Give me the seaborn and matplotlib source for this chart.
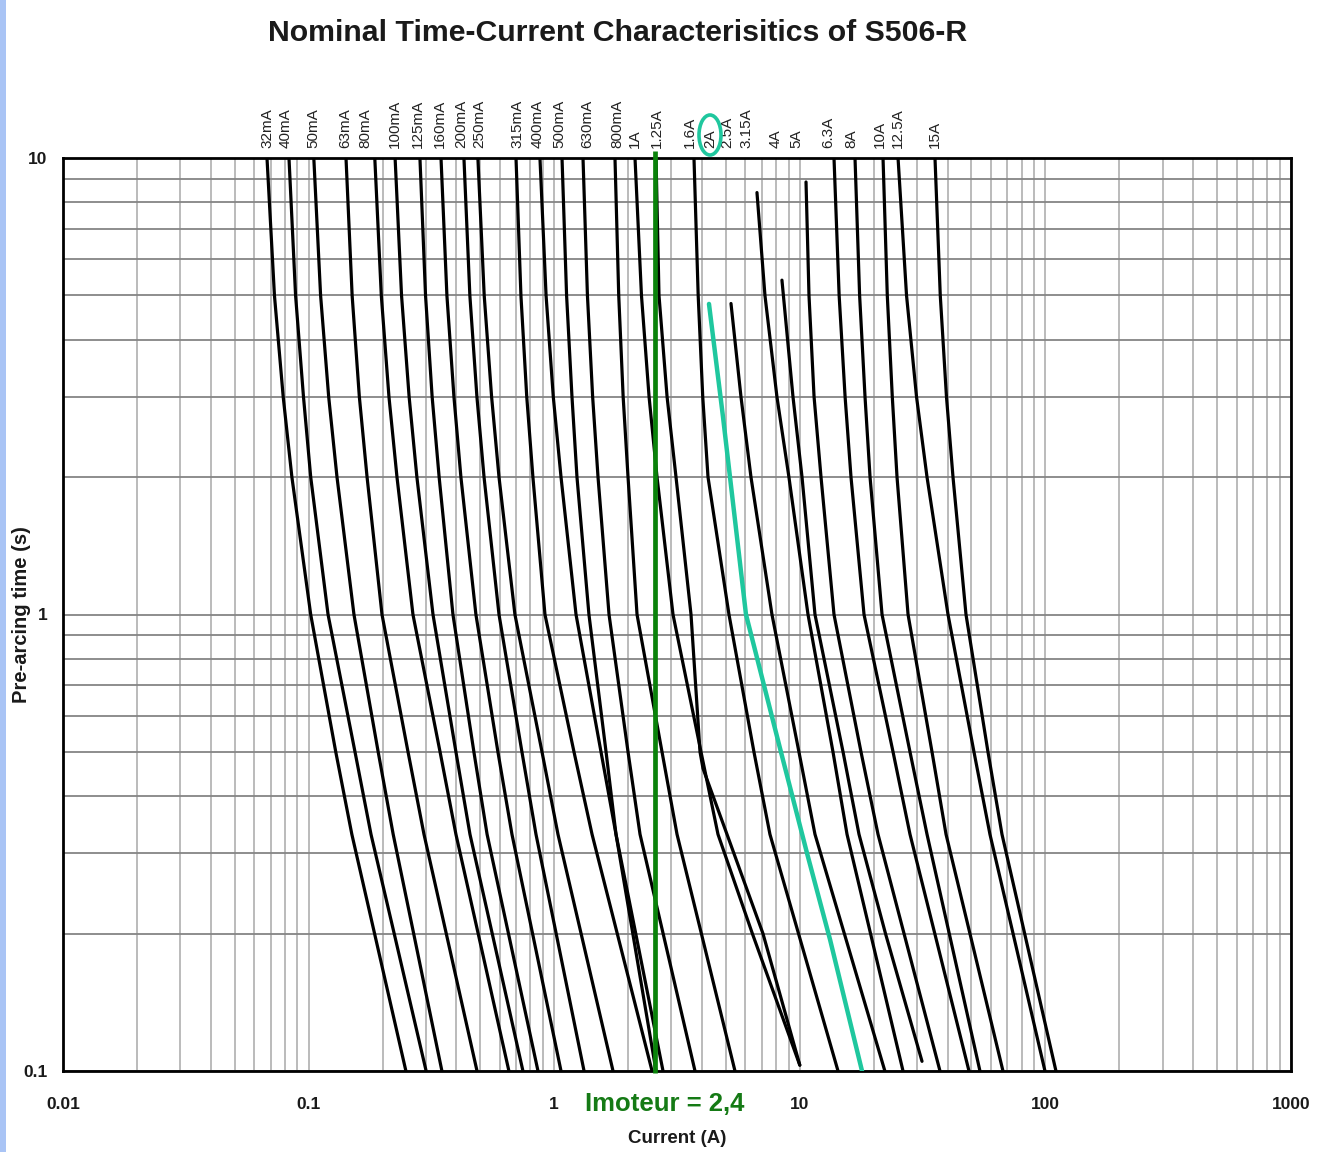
import numpy as np
import pandas as pd
import matplotlib
matplotlib.use("Agg")
import matplotlib.pyplot as plt
from matplotlib.patches import Ellipse, Rectangle
import seaborn as sns

# ---------------- data ----------------
ratings = ["32mA", "40mA", "50mA", "63mA", "80mA", "100mA", "125mA", "160mA",
           "200mA", "250mA", "315mA", "400mA", "500mA", "630mA", "800mA", "1A",
           "1.25A", "1.6A", "2A", "2.5A", "3.15A", "4A", "5A", "6.3A", "8A",
           "10A", "12.5A", "15A"]

# pre-arcing time (s) at which the currents below were read
t_std = [10, 5, 3, 2, 1, 0.5, 0.33, 0.2, 0.1]

i_32mA = [0.0677, 0.0726, 0.0788, 0.0855, 0.102, 0.129, 0.150, 0.1856, 0.249]
i_40mA = [0.0832, 0.0885, 0.0953, 0.102, 0.120, 0.1545, 0.1795, 0.2231, 0.301]
i_50mA = [0.105, 0.1119, 0.1207, 0.1305, 0.153, 0.192, 0.221, 0.2678, 0.349]
i_63mA = [0.142, 0.1504, 0.1609, 0.173, 0.199, 0.254, 0.295, 0.3635, 0.485]
i_80mA = [0.186, 0.1977, 0.2124, 0.229, 0.266, 0.343, 0.398, 0.4903, 0.654]
i_100mA = [0.225, 0.239, 0.2566, 0.276, 0.321, 0.398, 0.454, 0.5593, 0.746]
i_125mA = [0.284, 0.2993, 0.3184, 0.340, 0.387, 0.471, 0.533, 0.6513, 0.859]
i_160mA = [0.346, 0.3657, 0.3906, 0.417, 0.480, 0.590, 0.673, 0.8164, 1.066]
i_200mA = [0.429, 0.4535, 0.4845, 0.518, 0.596, 0.739, 0.843, 1.0186, 1.323]
i_250mA = [0.489, 0.5188, 0.556, 0.596, 0.692, 0.892, 1.036, 1.2868, 1.736]
i_315mA = [0.699, 0.732, 0.773, 0.819, 0.917, 1.204, 1.426, 1.806, 2.503]
i_400mA = [0.875, 0.9266, 0.9914, 1.066, 1.227, 1.551, 1.785, 2.148, 2.774]
i_500mA = [1.076, 1.1231, 1.1813, 1.238, 1.385, 1.626, 1.785, 2.0897, 2.598]
i_630mA = [1.310, 1.3655, 1.4338, 1.508, 1.672, 1.998, 2.236, 2.7765, 3.744]
i_800mA = [1.768, 1.8312, 1.9086, 1.998, 2.174, 2.748, 3.163, 3.974, 5.446]
i_1_6A = [3.708, 3.857, 4.025, 4.229, 5.148, 6.506, 7.559, 9.88, 14.31]
i_6_3A = [13.78, 14.46, 15.29, 16.16, 18.26, 23.97, 28.1, 35.45, 48.85]
i_8A = [16.78, 17.52, 18.43, 19.32, 21.62, 28.1, 32.96, 40.60, 54.14]
i_10A = [21.82, 22.71, 23.80, 24.88, 27.59, 34.54, 39.39, 49.29, 67.18]
i_12_5A = [25.12, 27.20, 29.87, 32.96, 40.13, 51.19, 59.46, 73.85, 99.6]
i_15A = [35.52, 37.32, 39.55, 42.05, 47.5, 58.37, 66.56, 82.32, 110.4]

# curves read at their own times
t_1A = [10, 5, 3, 2, 1, 0.5, 0.33, 0.2, 0.103]
i_1A = [2.133, 2.2663, 2.4336, 2.622, 3.046, 3.961, 4.644, 6.41, 10.0]
t_1_25A = [10, 5, 3, 2, 1, 0.5, 0.46, 0.33, 0.2, 0.103]
i_1_25A = [2.598, 2.671, 2.881, 3.133, 3.606, 3.924, 4.035, 5.053, 7.080, 10.0]
t_2A = [4.79, 2.71, 1, 0.51, 0.30, 0.194, 0.1]
i_2A = [4.268, 4.867, 6.038, 8.301, 10.70, 13.28, 17.92]
t_2_5A = [4.8, 3, 2, 1, 0.5, 0.33, 0.2, 0.1]
i_2_5A = [5.246, 5.76, 6.327, 7.703, 9.92, 11.53, 15.18, 22.2]
t_3_15A = [8.4, 5, 3, 2, 1, 0.5, 0.33, 0.2, 0.1]
i_3_15A = [6.693, 7.213, 8.07, 9.03, 10.8, 13.65, 15.57, 19.41, 26.32]
t_4A = [5.4, 3, 2, 1, 0.5, 0.33, 0.2, 0.105]
i_4A = [8.459, 9.38, 10.21, 11.53, 15.0, 17.42, 22.33, 31.45]
t_5A = [8.86, 5, 3, 2, 1, 0.5, 0.33, 0.2, 0.1]
i_5A = [10.6, 10.9, 11.43, 12.2, 13.78, 17.75, 20.82, 26.57, 37.22]

# current at which each rating label sits above the chart
label_current = [0.0677, 0.0808, 0.105, 0.141, 0.171, 0.225, 0.279, 0.343,
                 0.417, 0.494, 0.706, 0.859, 1.046, 1.36, 1.80, 2.13, 2.62,
                 3.57, 4.31, 5.06, 6.04, 8.0, 9.65, 13.0, 16.2, 21.2, 25.1, 35.5]

i_motor = 2.57
motor_text = "Imoteur = 2,4"

x_ticks = [0.01, 0.1, 1, 10, 100, 1000]
x_ticklabels = ["0.01", "0.1", "1", "10", "100", "1000"]
y_ticks = [0.1, 1, 10]
y_ticklabels = ["0.1", "1", "10"]

# ---------------- table ----------------
series = {
    "32mA": (t_std, i_32mA), "40mA": (t_std, i_40mA), "50mA": (t_std, i_50mA),
    "63mA": (t_std, i_63mA), "80mA": (t_std, i_80mA), "100mA": (t_std, i_100mA),
    "125mA": (t_std, i_125mA), "160mA": (t_std, i_160mA), "200mA": (t_std, i_200mA),
    "250mA": (t_std, i_250mA), "315mA": (t_std, i_315mA), "400mA": (t_std, i_400mA),
    "500mA": (t_std, i_500mA), "630mA": (t_std, i_630mA), "800mA": (t_std, i_800mA),
    "1A": (t_1A, i_1A), "1.25A": (t_1_25A, i_1_25A), "1.6A": (t_std, i_1_6A),
    "2A": (t_2A, i_2A), "2.5A": (t_2_5A, i_2_5A), "3.15A": (t_3_15A, i_3_15A),
    "4A": (t_4A, i_4A), "5A": (t_5A, i_5A), "6.3A": (t_std, i_6_3A),
    "8A": (t_std, i_8A), "10A": (t_std, i_10A), "12.5A": (t_std, i_12_5A),
    "15A": (t_std, i_15A),
}
rows = []
for r in ratings:
    ts, cs = series[r]
    for k, (t, c) in enumerate(zip(ts, cs)):
        rows.append({"rating": r, "order": k, "time": t, "current": c})
df = pd.DataFrame(rows)
df_black = df[df.rating != "2A"]
df_teal = df[df.rating == "2A"]

# ---------------- figure ----------------
sns.set_theme(style="white")
plt.rcParams["font.family"] = ["Liberation Sans", "DejaVu Sans"]

W, H = 1326, 1152
fig = plt.figure(figsize=(W / 100, H / 100), dpi=100)
fig.patch.set_facecolor("white")
fig.patches.append(Rectangle((0, 0), 6 / W, 1, transform=fig.transFigure,
                             facecolor="#a9c4f5", edgecolor="none", zorder=0))

ax = fig.add_axes([63 / W, (H - 1071) / H, (1291 - 63) / W, (1071 - 158) / H])
ax.set_xscale("log")
ax.set_yscale("log")
ax.set_xlim(0.01, 1000)
ax.set_ylim(0.1, 10)

ax.xaxis.set_minor_locator(matplotlib.ticker.LogLocator(base=10, subs=np.arange(2, 10)))
ax.yaxis.set_minor_locator(matplotlib.ticker.LogLocator(base=10, subs=np.arange(2, 10)))
ax.grid(True, which="both", axis="x", color="#a8a8a8", lw=1.1)
ax.grid(True, which="both", axis="y", color="#858585", lw=1.3)
ax.set_axisbelow(True)

sns.lineplot(data=df_black, x="current", y="time", units="rating",
             estimator=None, sort=False, color="black", lw=2.3, ax=ax,
             legend=False)
sns.lineplot(data=df_teal, x="current", y="time", units="rating",
             estimator=None, sort=False, color="#1fc79e", lw=3.2, ax=ax,
             legend=False, zorder=5)
for ln in ax.lines:
    ln.set_solid_joinstyle("round")
    ln.set_solid_capstyle("round")

ax.plot([i_motor, i_motor], [0.099, 10.35], color="#0a820a", lw=3.4,
        clip_on=False, zorder=6, solid_capstyle="butt")

for s in ax.spines.values():
    s.set_color("black")
    s.set_linewidth(2.0)

ax.set_xticks(x_ticks)
ax.set_xticklabels(x_ticklabels)
ax.set_yticks(y_ticks)
ax.set_yticklabels(y_ticklabels)
ax.xaxis.set_minor_formatter(matplotlib.ticker.NullFormatter())
ax.yaxis.set_minor_formatter(matplotlib.ticker.NullFormatter())
ax.tick_params(axis="both", which="both", length=0)
ax.tick_params(axis="x", pad=19, labelsize=12.5)
ax.tick_params(axis="y", pad=11, labelsize=12.5)
for lab in ax.get_xticklabels() + ax.get_yticklabels():
    lab.set_fontweight("bold")
    lab.set_color("#1a1a1a")

ax.set_xlabel("Current (A)", fontsize=13.5, fontweight="bold", color="#1a1a1a")
ax.set_ylabel("Pre-arcing time (s)", fontsize=14.5, fontweight="bold", color="#1a1a1a")
ax.xaxis.set_label_coords(0.5, (1071 - 1130) / 913)
ax.yaxis.set_label_coords((31 - 63) / 1228, 0.5)

for r, c in zip(ratings, label_current):
    ax.annotate(r, xy=(c, 10), xycoords="data", xytext=(0, 7),
                textcoords="offset points", rotation=90, ha="center",
                va="bottom", fontsize=11, color="#222222", annotation_clip=False)

fig.text(618 / W, 1 - 33 / H, "Nominal Time-Current Characterisitics of S506-R",
         ha="center", va="center", fontsize=21.8, fontweight="bold", color="#1a1a1a")
fig.text(665 / W, 1 - 1104 / H, motor_text, ha="center", va="center",
         fontsize=18.5, fontweight="bold", color="#157a15")

fig.patches.append(Ellipse((710 / W, 1 - 135 / H), 22 / W, 40 / H,
                           transform=fig.transFigure, fill=False,
                           edgecolor="#1fc79e", lw=2.6, zorder=10))

fig.savefig("out.png", dpi=100)
